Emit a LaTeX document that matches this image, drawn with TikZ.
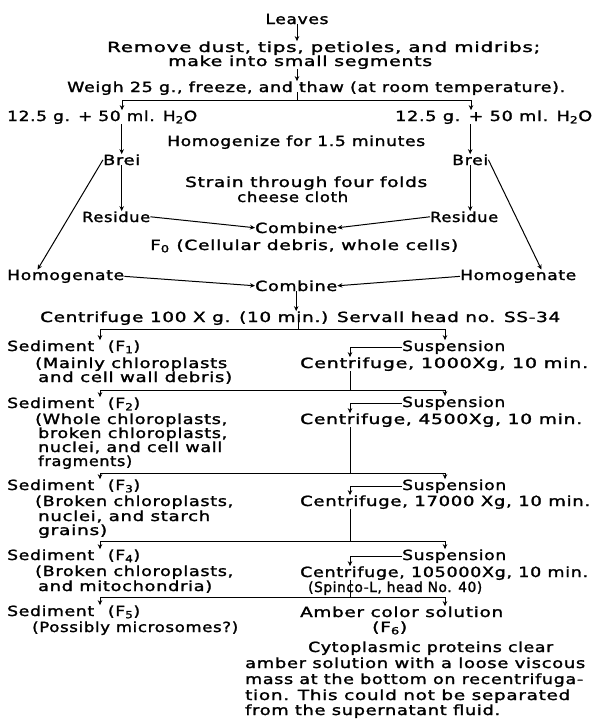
\documentclass[tikz,border=0pt]{standalone}
\usepackage{fontspec}
\usepackage{graphicx}
\setsansfont{DejaVu Sans}[LetterSpace=4,FakeBold=1.5]
\usetikzlibrary{arrows.meta,calc}
\newcommand{\tw}[2]{\resizebox{#1pt}{\height}{#2}}
\begin{document}
\begin{tikzpicture}[x=1pt,y=-1pt,
  txt/.style={inner sep=0pt, font=\sffamily\fontsize{14}{15}\selectfont},
  lt/.style={txt, anchor=base west},
  ct/.style={txt, anchor=base},
  conn/.style={line width=1pt},
  arr/.style={conn, -{Stealth[length=5pt,width=4.5pt]}}]
\useasboundingbox (0,0) rectangle (595,720);
% top part
\node[ct] (leaves) at (297,24) {\tw{63}{Leaves}};
\node[lt] (rem1) at (107,52) {\tw{433}{Remove dust, tips, petioles, and midribs;}};
\node[lt] (rem2) at (168,66) {\tw{264}{make into small segments}};
\node[lt] (weigh) at (67,92) {\tw{498}{Weigh 25 g., freeze, and thaw (at room temperature).}};
\node[lt] (mixL) at (7,121) {\tw{190}{12.5 g. + 50 ml. H\textsubscript{2}O}};
\node[lt] (mixR) at (395,121) {\tw{197}{12.5 g. + 50 ml. H\textsubscript{2}O}};
\node[lt] (homog) at (167,146) {\tw{258}{Homogenize for 1.5 minutes}};
\node[lt] (breiL) at (103,165) {\tw{37}{Brei}};
\node[lt] (breiR) at (452,165) {\tw{36}{Brei}};
\node[lt] (strain1) at (185,187) {\tw{242}{Strain through four folds}};
\node[lt] (strain2) at (237,202) {\tw{111}{cheese cloth}};
\node[lt] (resL) at (82,222) {\tw{68}{Residue}};
\node[lt] (resR) at (430,222) {\tw{68}{Residue}};
\node[lt] (comb1) at (255,233) {\tw{82}{Combine}};
\node[lt] (fzero) at (150,250) {\tw{308}{F\textsubscript{0} (Cellular debris, whole cells)}};
\node[lt] (homL) at (7,280) {\tw{117}{Homogenate}};
\node[lt] (homR) at (460,280) {\tw{116}{Homogenate}};
\node[lt] (comb2) at (255,291) {\tw{82}{Combine}};
\node[lt] (cent0) at (40,322) {\tw{520}{Centrifuge 100 X g. (10 min.) Servall head no. SS-34}};
% stage 1
\node[lt] (sed1) at (7,351) {\tw{133}{Sediment\hspace{0.8em}(F\textsubscript{1})}};
\node[lt] (susp1) at (402,351) {\tw{103}{Suspension}};
\node[lt] (d1a) at (35,368) {\tw{192}{(Mainly chloroplasts}};
\node[lt] (d1b) at (38,382) {\tw{194}{and cell wall debris)}};
\node[lt] (c1) at (300,368) {\tw{288}{Centrifuge, 1000Xg, 10 min.}};
% stage 2
\node[lt] (sed2) at (7,408) {\tw{133}{Sediment\hspace{0.8em}(F\textsubscript{2})}};
\node[lt] (susp2) at (402,407) {\tw{103}{Suspension}};
\node[lt] (d2a) at (35,424) {\tw{192}{(Whole chloroplasts,}};
\node[lt] (d2b) at (38,438) {\tw{189}{broken chloroplasts,}};
\node[lt] (d2c) at (38,452) {\tw{184}{nuclei, and cell wall}};
\node[lt] (d2d) at (38,466) {\tw{94}{fragments)}};
\node[lt] (c2) at (300,424) {\tw{282}{Centrifuge, 4500Xg, 10 min.}};
% stage 3
\node[lt] (sed3) at (7,490) {\tw{133}{Sediment\hspace{0.8em}(F\textsubscript{3})}};
\node[lt] (susp3) at (402,490) {\tw{104}{Suspension}};
\node[lt] (d3a) at (35,506) {\tw{198}{(Broken chloroplasts,}};
\node[lt] (d3b) at (38,521) {\tw{172}{nuclei, and starch}};
\node[lt] (d3c) at (38,535) {\tw{69}{grains)}};
\node[lt] (c3) at (300,506) {\tw{290}{Centrifuge, 17000 Xg, 10 min.}};
% stage 4
\node[lt] (sed4) at (7,560) {\tw{133}{Sediment\hspace{0.8em}(F\textsubscript{4})}};
\node[lt] (susp4) at (402,560) {\tw{104}{Suspension}};
\node[lt] (d4a) at (35,576) {\tw{198}{(Broken chloroplasts,}};
\node[lt] (d4b) at (38,591) {\tw{174}{and mitochondria)}};
\node[lt] (c4) at (300,577) {\tw{288}{Centrifuge, 105000Xg, 10 min.}};
\node[lt] (spinco) at (308,592) {\tw{174}{(Spinco-L, head No. 40)}};
% stage 5
\node[lt] (sed5) at (7,616) {\tw{133}{Sediment\hspace{0.8em}(F\textsubscript{5})}};
\node[lt] (d5) at (32,632) {\tw{206}{(Possibly microsomes?)}};
\node[lt] (amber) at (300,617) {\tw{203}{Amber color solution}};
\node[lt] (f6) at (372,632) {\tw{35}{(F\textsubscript{6})}};
\node[lt] (p1) at (308,652) {\tw{245}{Cytoplasmic proteins clear}};
\node[lt] (p2) at (245,668) {\tw{340}{amber solution with a loose viscous}};
\node[lt] (p3) at (245,684) {\tw{338}{mass at the bottom on recentrifuga-}};
\node[lt] (p4) at (245,700) {\tw{325}{tion. This could not be separated}};
\node[lt] (p5) at (245,715) {\tw{255}{from the supernatant fluid.}};
% connectors, top
\draw[arr] (leaves.south) -- (leaves.south |- rem1.north);
\draw[arr] (rem2.south -| leaves.base) -- (leaves.base |- weigh.north);
\coordinate (j0) at (297,100);
\coordinate (l0) at (122,100);
\coordinate (r0) at (471,100);
\draw[conn] (weigh.base -| j0) -- (j0);
\draw[arr] (j0) -- (l0) -- (l0 |- mixL.north);
\draw[arr] (j0) -- (r0) -- (r0 |- mixR.north);
\draw[arr] (mixL.south -| breiL.north) -- (breiL.north);
\draw[arr] (mixR.south -| breiR.north) -- (breiR.north);
\draw[arr] (breiL.south) -- (breiL.south |- resL.north);
\draw[arr] (breiR.south) -- (breiR.south |- resR.north);
\draw[arr] (resL.east) -- (comb1.west);
\draw[arr] (resR.west) -- (comb1.east);
\draw[arr] (breiL.west) -- ($(homL.north west)!0.26!(homL.north east)$);
\draw[arr] (breiR.east) -- ($(homR.north west)!0.7!(homR.north east)$);
\draw[arr] (homL.east) -- (comb2.west);
\draw[arr] (homR.west) -- (comb2.east);
\draw[arr] (comb2.south) -- (comb2.south |- cent0.north);
% centrifuge cascade
\coordinate (vx) at (350,0);
\coordinate (j1) at (298,329);
\coordinate (l1) at (100,329);
\coordinate (r1) at (445,329);
\draw[conn] (cent0.base -| j1) -- (j1);
\draw[arr] (j1) -- (l1) -- (l1 |- sed1.north);
\draw[arr] (j1) -- (r1) -- (r1 |- susp1.north);
\draw[arr] (susp1.west) -- (susp1.west -| vx) -- (vx |- c1.north);
\coordinate (j2) at (350,390);
\coordinate (l2) at (100,390);
\coordinate (r2) at (445,390);
\draw[conn] (c1.south -| vx) -- (j2);
\draw[arr] (j2) -- (l2) -- (l2 |- sed2.north);
\draw[arr] (j2) -- (r2) -- (r2 |- susp2.north);
\draw[arr] (susp2.west) -- (susp2.west -| vx) -- (vx |- c2.north);
\coordinate (j3) at (350,473);
\coordinate (l3) at (100,473);
\coordinate (r3) at (445,473);
\draw[conn] (c2.south -| vx) -- (j3);
\draw[arr] (j3) -- (l3) -- (l3 |- sed3.north);
\draw[arr] (j3) -- (r3) -- (r3 |- susp3.north);
\draw[arr] (susp3.west) -- (susp3.west -| vx) -- (vx |- c3.north);
\coordinate (j4) at (350,541);
\coordinate (l4) at (100,541);
\coordinate (r4) at (445,541);
\draw[conn] (c3.south -| vx) -- (j4);
\draw[arr] (j4) -- (l4) -- (l4 |- sed4.north);
\draw[arr] (j4) -- (r4) -- (r4 |- susp4.north);
\draw[arr] (susp4.west) -- (susp4.west -| vx) -- (vx |- c4.north);
\coordinate (j5) at (350,597);
\coordinate (l5) at (100,597);
\coordinate (r5) at (445,597);
\draw[conn] (c4.south -| vx) -- (j5);
\draw[arr] (j5) -- (l5) -- (l5 |- sed5.north);
\draw[arr] (j5) -- (r5) -- (r5 |- amber.north);
\end{tikzpicture}
\end{document}
